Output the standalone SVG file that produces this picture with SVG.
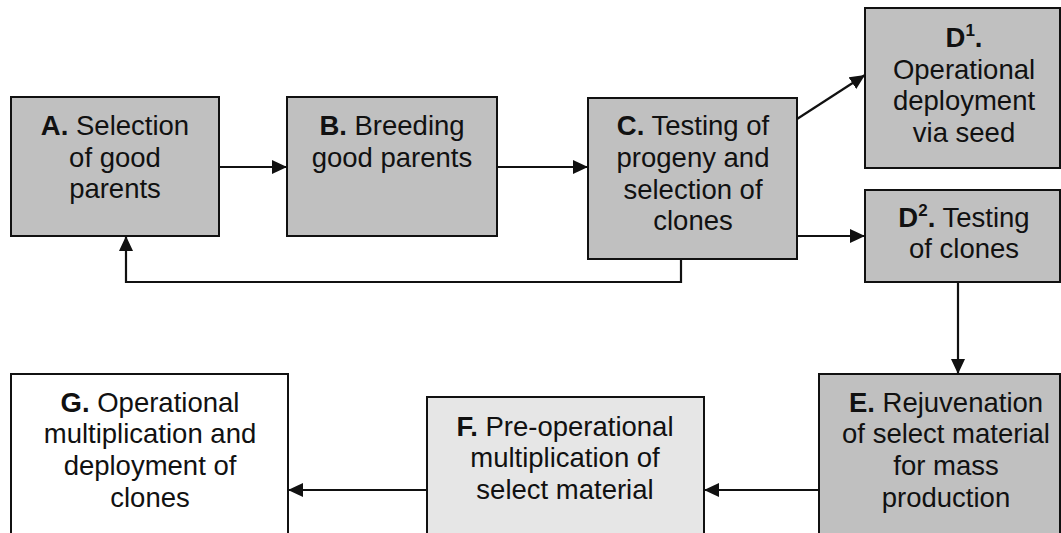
<svg xmlns="http://www.w3.org/2000/svg" width="1061" height="533" viewBox="0 0 1061 533">
<defs>
<style>
.box{stroke:#111;stroke-width:2}
.g1{fill:#c0c0c0}
.g2{fill:#e6e6e6}
.w{fill:#ffffff}
text{font-family:"Liberation Sans",Arial,sans-serif;font-size:27.5px;fill:#111;text-anchor:middle}
.b{font-weight:bold}
.conn{fill:none;stroke:#111;stroke-width:2.2}
</style>
<marker id="ah" markerUnits="userSpaceOnUse" markerWidth="16" markerHeight="14" refX="15" refY="7" orient="auto">
<path d="M0,0 L15,7 L0,14 z" fill="#111"/>
</marker>
</defs>
<rect width="1061" height="533" fill="#fff"/>
<g id="nodeA">
<rect class="box g1" x="11" y="97" width="208" height="139"/>
<text x="115" y="135"><tspan class="b">A.</tspan> Selection</text>
<text x="115" y="167">of good</text>
<text x="115" y="198">parents</text>
</g>
<g id="nodeB">
<rect class="box g1" x="287" y="97" width="210" height="139"/>
<text x="392" y="135"><tspan class="b">B.</tspan> Breeding</text>
<text x="392" y="167">good parents</text>
</g>
<g id="nodeC">
<rect class="box g1" x="588" y="98" width="209" height="161"/>
<text x="693" y="135"><tspan class="b">C.</tspan> Testing of</text>
<text x="693" y="167">progeny and</text>
<text x="693" y="199">selection of</text>
<text x="693" y="230">clones</text>
</g>
<g id="nodeD1">
<rect class="box g1" x="865" y="8" width="195" height="160"/>
<text x="964" y="47" class="b">D<tspan font-size="17" dy="-11">1</tspan><tspan dy="11">.</tspan></text>
<text x="964" y="79">Operational</text>
<text x="964" y="110">deployment</text>
<text x="964" y="142">via seed</text>
</g>
<g id="nodeD2">
<rect class="box g1" x="865" y="190" width="195" height="92"/>
<text x="964" y="227"><tspan class="b">D</tspan><tspan class="b" font-size="17" dy="-11">2</tspan><tspan class="b" dy="11">.</tspan> Testing</text>
<text x="964" y="258">of clones</text>
</g>
<g id="nodeE">
<rect class="box g1" x="819" y="374" width="241" height="170"/>
<text x="946" y="412"><tspan class="b">E.</tspan> Rejuvenation</text>
<text x="946" y="443">of select material</text>
<text x="946" y="475">for mass</text>
<text x="946" y="507">production</text>
</g>
<g id="nodeF">
<rect class="box g2" x="427" y="397" width="277" height="150"/>
<text x="565" y="436"><tspan class="b">F.</tspan> Pre-operational</text>
<text x="565" y="467">multiplication of</text>
<text x="565" y="499">select material</text>
</g>
<g id="nodeG">
<rect class="box w" x="11" y="374" width="277" height="170"/>
<text x="150" y="412"><tspan class="b">G.</tspan> Operational</text>
<text x="150" y="443">multiplication and</text>
<text x="150" y="475">deployment of</text>
<text x="150" y="507">clones</text>
</g>
<g id="connectors">
<path class="conn" d="M219,167 H287" marker-end="url(#ah)"/>
<path class="conn" d="M497,167 H588" marker-end="url(#ah)"/>
<path class="conn" d="M797,119 L865,75" marker-end="url(#ah)"/>
<path class="conn" d="M797,236 H865" marker-end="url(#ah)"/>
<path class="conn" d="M681,259 V282 H126 V236" marker-end="url(#ah)"/>
<path class="conn" d="M958,282 V374" marker-end="url(#ah)"/>
<path class="conn" d="M819,490 H704" marker-end="url(#ah)"/>
<path class="conn" d="M427,490 H288" marker-end="url(#ah)"/>
</g>
</svg>
